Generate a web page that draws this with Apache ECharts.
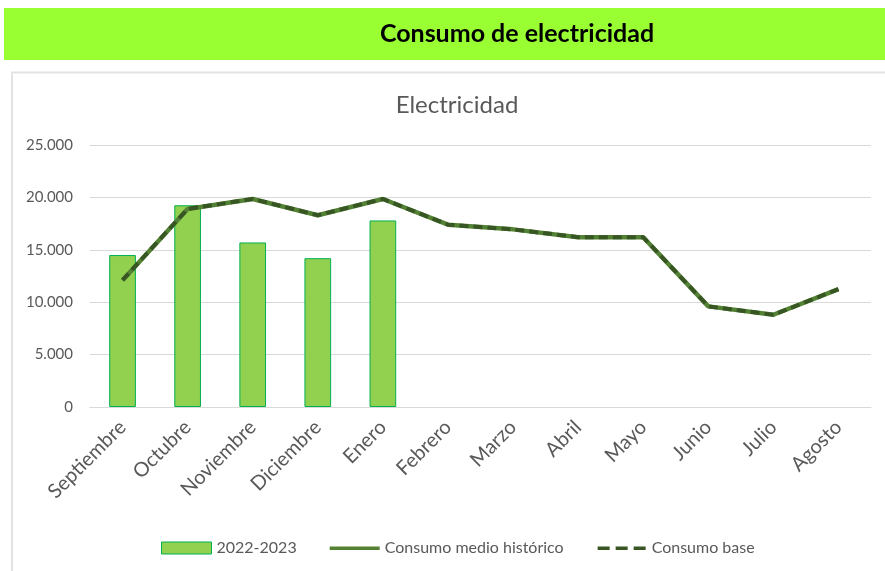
<!DOCTYPE html>
<html>
<head>
<meta charset="utf-8">
<script src="https://cdn.jsdelivr.net/npm/echarts@6/dist/echarts.min.js"></script>
<style>
html,body{margin:0;padding:0;background:#fff;}
#c{width:885px;height:571px;}
</style>
</head>
<body>
<div id="c"></div>
<script>
const months = ['Septiembre','Octubre','Noviembre','Diciembre','Enero','Febrero','Marzo','Abril','Mayo','Junio','Julio','Agosto'];
const consumo2223 = [14500, 19250, 15700, 14200, 17800, null, null, null, null, null, null, null];
const medioHistorico = [12100, 18900, 19850, 18300, 19850, 17400, 16950, 16200, 16200, 9600, 8800, 11250];
const consumoBase = [12100, 18900, 19850, 18300, 19850, 17400, 16950, 16200, 16200, 9600, 8800, 11250];
const yTicks = [0, 5000, 10000, 15000, 20000, 25000];

const FONT = 'Lato, "Open Sans", sans-serif';
const chart = echarts.init(document.getElementById('c'));
function fmt(v){ return String(v).replace(/\B(?=(\d{3})+(?!\d))/g, '.'); }

const solidIcon = 'path://M0,0 M50,12 M0,4.5h50v3.5H0z';
const dashIcon = 'path://M0,0 M50,12 M1,4.5h12v3.5H1z M19,4.5h12v3.5H19z M37,4.5h12v3.5H37z';

chart.setOption({
  backgroundColor: '#ffffff',
  animation: false,
  textStyle: { fontFamily: FONT },
  graphic: [
    { type: 'rect', shape: { x: 4, y: 8, width: 890, height: 52 }, style: { fill: '#99ff33' }, silent: true },
    { type: 'text', x: 517, y: 34, style: { text: 'Consumo de electricidad', fill: '#000', font: 'bold 25px ' + FONT, textAlign: 'center', textVerticalAlign: 'middle' } },
    { type: 'polyline', shape: { points: [[12, 600], [12, 72.5], [900, 72.5]] }, style: { stroke: '#e3e3e3', lineWidth: 2, fill: null }, silent: true }
  ],
  title: {
    text: 'Electricidad', left: 452, top: 88, textAlign: 'center',
    textStyle: { fontSize: 24, fontWeight: 'normal', color: '#595959', fontFamily: FONT }
  },
  legend: {
    bottom: 10, left: 156, itemGap: 33, itemWidth: 50, itemHeight: 12,
    textStyle: { fontSize: 16, color: '#595959', fontFamily: FONT },
    data: [
      { name: '2022-2023', icon: 'rect', itemStyle: { color: '#92d050', borderColor: '#00b050', borderWidth: 1 } },
      { name: 'Consumo medio histórico', icon: solidIcon, itemStyle: { color: '#548235', borderWidth: 0 } },
      { name: 'Consumo base', icon: dashIcon, itemStyle: { color: '#375623', borderWidth: 0 } }
    ]
  },
  grid: { left: 90, right: 14, top: 145, bottom: 164 },
  xAxis: {
    type: 'category', data: months, boundaryGap: true,
    axisLine: { lineStyle: { color: '#d9d9d9', width: 1 } },
    axisTick: { show: false },
    axisLabel: { rotate: 45, fontSize: 20, color: '#595959', margin: 17, interval: 0, fontFamily: FONT }
  },
  yAxis: {
    type: 'value', min: 0, max: 25000, interval: 5000,
    axisLine: { show: false }, axisTick: { show: false },
    splitLine: { lineStyle: { color: '#d9d9d9', width: 1 } },
    axisLabel: { fontSize: 15, color: '#595959', margin: 17, fontFamily: FONT,
      formatter: v => yTicks.indexOf(v) >= 0 ? fmt(v) : '' }
  },
  series: [
    { name: '2022-2023', type: 'bar', data: consumo2223, barWidth: '41%',
      itemStyle: { color: '#92d050', borderColor: '#00b050', borderWidth: 1 } },
    { name: 'Consumo medio histórico', type: 'line', data: medioHistorico, symbol: 'none',
      lineStyle: { color: '#548235', width: 4.5 }, itemStyle: { color: '#548235' } },
    { name: 'Consumo base', type: 'line', data: consumoBase, symbol: 'none',
      lineStyle: { color: '#375623', width: 4, type: [9, 5] }, itemStyle: { color: '#375623' } }
  ]
});
</script>
</body>
</html>
